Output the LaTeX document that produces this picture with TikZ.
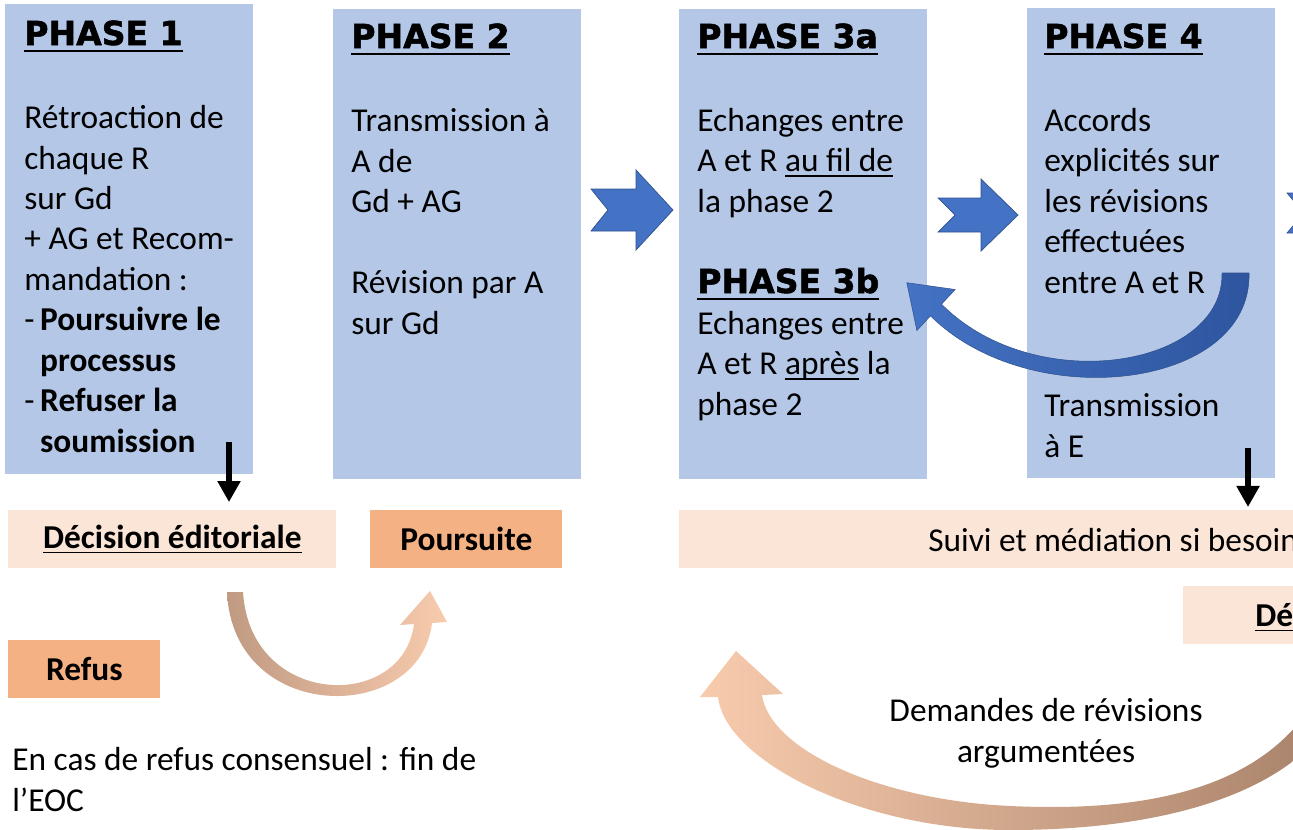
\documentclass[tikz,border=0pt]{standalone}
\usepackage{fontspec}
\setmainfont{Carlito}
\newfontfamily\headfont[FakeBold=1.6]{DejaVu Sans Bold}
\usetikzlibrary{arrows.meta}

\definecolor{boxblue}{HTML}{B4C7E7}
\definecolor{chevblue}{HTML}{4472C4}
\definecolor{chevline}{HTML}{2F528F}
\definecolor{bluedeep}{HTML}{2E559E}
\definecolor{palepeach}{HTML}{FBE5D6}
\definecolor{peach}{HTML}{F4B183}
\definecolor{lightpeach}{HTML}{F8CBAD}
\definecolor{arrowtan}{HTML}{C09A82}
\definecolor{arrowbrown}{HTML}{A8826A}

\newcommand\txtsize{\fontsize{19}{23}\selectfont}
\newcommand\headline[1]{\setbox0\hbox{#1}\rlap{\rule[-4pt]{\wd0}{1.1pt}}\box0\relax}
\newcommand\undl[1]{\setbox0\hbox{#1}\rlap{\rule[-2.8pt]{\wd0}{0.8pt}}\box0\relax}

\tikzset{
  phasebox/.style={fill=boxblue, anchor=north west, minimum width=4.96cm, minimum height=9.4cm, inner sep=0pt},
  notebox/.style={anchor=north west, minimum height=1.15cm, inner sep=0pt, font=\txtsize\bfseries},
  phasetitle/.style={anchor=base west, inner sep=0pt, font=\headfont\fontsize{18.8}{22}\selectfont},
  % multi-line text: placed at the baseline of its last line
  phasetext/.style={anchor=base west, inner sep=0pt, align=left, font=\txtsize},
  chevron/.style={fill=chevblue, draw=chevline, line width=0.4pt},
  downarrow/.style={line width=3.4pt, -{Triangle[length=12pt,width=12.5pt]}},
}

\begin{document}
\begin{tikzpicture}[x=0.02cm, y=-0.02cm]
\useasboundingbox (0,0) rectangle (1293,829);
\clip (0,0) rectangle (1293,829);

% the four phases
\node[phasebox] (p1) at (5,4) {};
\node[phasebox] (p2) at (333,9) {};
\node[phasebox] (p3) at (679,9) {};
\node[phasebox] (p4) at (1027,8) {};

\node[phasetitle] (t1) at (24,45) {\headline{PHASE 1}};
\node[phasetitle] (t2) at (351,48) {\headline{PHASE 2}};
\node[phasetitle] (t3a) at (697,48) {\headline{PHASE 3a}};
\node[phasetitle] (t3b) at (697,293) {\headline{PHASE 3b}};
\node[phasetitle] (t4) at (1044,48) {\headline{PHASE 4}};

\node[phasetext] (b1) at (24,452) {Rétroaction de\\chaque R\\sur Gd\\+ AG et Recom-\\mandation :\\-\hspace{3.2pt}\textbf{Poursuivre le}\\\hspace*{9pt}\textbf{processus}\\-\hspace{3.2pt}\textbf{Refuser la}\\\hspace*{9pt}\textbf{soumission}};
\node[phasetext] (b2) at (351,334) {Transmission à\\A de\\Gd + AG\\[23pt]Révision par A\\sur Gd};
\node[phasetext] (b3a) at (697,212) {Echanges entre\\A et R \undl{au fil de}\\la phase 2};
\node[phasetext] (b3b) at (697,415) {Echanges entre\\A et R \undl{après} la\\phase 2};
\node[phasetext] (b4) at (1044,293) {Accords\\explicités sur\\les révisions\\effectuées\\entre A et R};
\node[phasetext] (b4t) at (1044,457) {Transmission\\à E};

% chevrons between phases
\foreach \cx/\cy/\tailh/\headh/\clen in {591/210/21/40/82, 938/215/17/36/80, 1287/213/20/40/82}
  \filldraw[chevron] (\cx,\cy-\tailh) -- (\cx+\clen-37,\cy-\tailh) -- (\cx+\clen-37,\cy-\headh)
    -- (\cx+\clen,\cy) -- (\cx+\clen-37,\cy+\headh) -- (\cx+\clen-37,\cy+\tailh)
    -- (\cx,\cy+\tailh) -- (\cx+17,\cy) -- cycle;

% loop back from phase 4 to phase 3b
\shadedraw[left color=chevblue, right color=bluedeep, draw=chevline, line width=0.3pt]
  (1222,273) -- (1249,273) .. controls (1252,390) and (1030,415) .. (930.5,315.8)
  -- (916.9,330.5) -- (906.8,282.7) -- (955.1,289.5) -- (941.5,304.2)
  .. controls (1035,398) and (1224,368) .. (1222,273) -- cycle;

% decisions
\node[notebox, fill=palepeach, minimum width=6.56cm] (dec) at (8,510) {\undl{Décision éditoriale}};
\node[notebox, fill=peach, minimum width=3.84cm] (pours) at (370,510) {Poursuite};
\node[notebox, fill=peach, minimum width=3.04cm] (refus) at (8,640) {Refus};
\node[notebox, fill=palepeach, minimum width=13cm] (suivi) at (679,510) {};
\node[notebox, fill=palepeach, minimum width=3cm] (decf) at (1183,586) {};
\node[phasetext] (suivitxt) at (928,551) {Suivi et médiation si besoin};
\node[phasetext, font=\txtsize\bfseries] (decftxt) at (1255,626) {\undl{Dé}};

\coordinate (d1) at (229,442);
\draw[downarrow, shorten >=4.5pt] (d1) -- (d1 |- dec.north);
\coordinate (d2) at (1248,448);
\draw[downarrow, shorten >=1.7pt] (d2) -- (d2 |- suivi.north);

% curved arrows
\shade[left color=arrowtan, right color=lightpeach]
  (227,592) .. controls (233,725) and (420,725) .. (432,623) -- (447,622) -- (430,591)
  -- (400,625) -- (414,624) .. controls (403,712) and (250,708) .. (243,592) -- cycle;
\shade[left color=lightpeach, right color=arrowbrown]
  (1325,730) .. controls (1270,800) and (1150,830) .. (1010,830)
  .. controls (860,830) and (725,760) .. (718,697) -- (700,697) -- (736,651) -- (783,694)
  -- (762,695) .. controls (770,750) and (880,800) .. (1010,806)
  .. controls (1120,811) and (1255,800) .. (1315,700) -- cycle;

\node[phasetext] (fin) at (12,811) {En cas de refus consensuel : fin de\\l’EOC};
\node[phasetext, anchor=base, align=center] (dem) at (1046,762) {Demandes de révisions\\argumentées};

\end{tikzpicture}
\end{document}
